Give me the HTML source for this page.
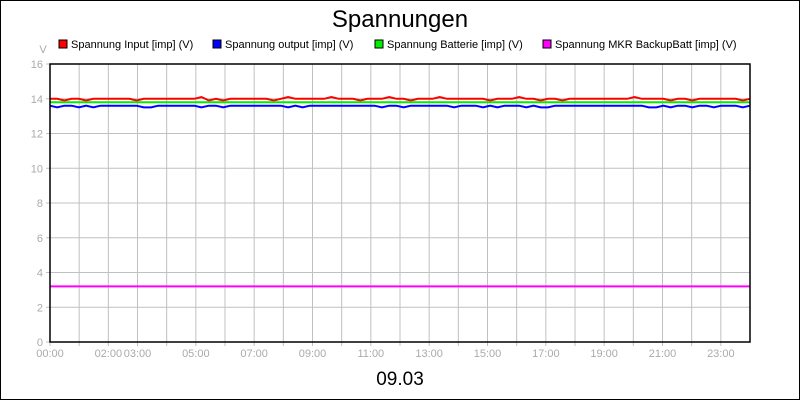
<!DOCTYPE html>
<html><head><meta charset="utf-8"><style>
body{margin:0;background:#fff}
svg{display:block;font-family:"Liberation Sans",sans-serif}
</style></head><body>
<svg id="c" width="800" height="400">
<rect x="0.5" y="0.5" width="799" height="399" fill="#fff" stroke="#000"/>
<text x="400" y="27" font-size="24" text-anchor="middle">Spannungen</text>
<text x="43" y="53" font-size="11" fill="#aaa" text-anchor="middle">V</text>
<g id="grid"></g><g id="series"></g><g id="axes"></g><g id="legend"></g>
<text x="400" y="385" font-size="19" text-anchor="middle">09.03</text>
</svg>
<script>
const inputV=[14.0,14.0,13.9,14.0,14.0,13.9,14.0,14.0,14.0,14.0,14.0,14.0,13.9,14.0,14.0,14.0,14.0,14.0,14.0,14.0,14.0,14.1,13.9,14.0,13.9,14.0,14.0,14.0,14.0,14.0,14.0,13.9,14.0,14.1,14.0,14.0,14.0,14.0,14.0,14.1,14.0,14.0,14.0,13.9,14.0,14.0,14.0,14.1,14.0,14.0,13.9,14.0,14.0,14.0,14.1,14.0,14.0,14.0,14.0,14.0,14.0,13.9,14.0,14.0,14.0,14.1,14.0,14.0,13.9,14.0,14.0,13.9,14.0,14.0,14.0,14.0,14.0,14.0,14.0,14.0,14.0,14.1,14.0,14.0,14.0,14.0,13.9,14.0,14.0,13.9,14.0,14.0,14.0,14.0,14.0,14.0,13.9,14.0];
const outputV=[13.6,13.5,13.6,13.6,13.5,13.6,13.5,13.6,13.6,13.6,13.6,13.6,13.6,13.5,13.5,13.6,13.6,13.6,13.6,13.6,13.6,13.5,13.6,13.6,13.5,13.6,13.6,13.6,13.6,13.6,13.6,13.6,13.6,13.5,13.6,13.5,13.6,13.6,13.6,13.6,13.6,13.6,13.6,13.6,13.6,13.6,13.5,13.6,13.6,13.5,13.6,13.6,13.6,13.6,13.6,13.6,13.5,13.6,13.6,13.6,13.5,13.6,13.5,13.6,13.6,13.6,13.5,13.6,13.5,13.5,13.6,13.6,13.6,13.6,13.6,13.6,13.6,13.6,13.6,13.6,13.6,13.6,13.6,13.5,13.5,13.6,13.5,13.6,13.6,13.5,13.6,13.6,13.5,13.6,13.6,13.6,13.5,13.6];
const batterieV=new Array(98).fill(13.8);
const mkrV=new Array(98).fill(3.2);
const yTicks=[0,2,4,6,8,10,12,14,16];
const xLabels=["00:00","","02:00","03:00","","05:00","","07:00","","09:00","","11:00","","13:00","","15:00","","17:00","","19:00","","21:00","","23:00"];
const seriesNames=["Spannung Input [imp] (V)","Spannung output [imp] (V)","Spannung Batterie [imp] (V)","Spannung MKR BackupBatt [imp] (V)"];
const seriesColors=["#ff0000","#0000ff","#00ee00","#ff00ff"];

const L=50,R=750,T=64,B=342,NS="http://www.w3.org/2000/svg";
const yS=v=>B-(v/16)*(B-T);
const xH=h=>L+h/24*(R-L);
function mk(t,a,p){const e=document.createElementNS(NS,t);for(const k in a)e.setAttribute(k,a[k]);p.appendChild(e);return e;}
const g=document.getElementById('grid'),ax=document.getElementById('axes'),sg=document.getElementById('series'),lg=document.getElementById('legend');
yTicks.forEach(v=>{
  const l=mk('line',{x1:L-4,x2:R,y1:yS(v),y2:yS(v),stroke:'#c0c0c0'},g);
  
  
  const t=mk('text',{x:L-7,y:yS(v)+4,'font-size':11,fill:'#aaa','text-anchor':'end'},ax);t.textContent=v;
  
  
});
for(let h=0;h<24;h++){
  const l=mk('line',{x1:xH(h),x2:xH(h),y1:T,y2:B+4,stroke:'#c0c0c0'},g);
  
  
  if(xLabels[h]){const t=mk('text',{x:xH(h),y:B+15,'font-size':11,fill:'#aaa','text-anchor':'middle'},ax);t.textContent=xLabels[h];
  
  }
}
const fr=mk('rect',{x:L,y:T,width:R-L,height:B-T,fill:'none',stroke:'#000','stroke-width':1.5},ax);


[inputV,outputV,batterieV,mkrV].forEach((arr,i)=>{
  const pts=arr.map((v,j)=>(L+j/(arr.length-1)*(R-L)).toFixed(1)+','+yS(v).toFixed(1)).join(' ');
  const p=mk('polyline',{points:pts,fill:'none',stroke:seriesColors[i],'stroke-width':2},sg);
  
  
});
const lx=[59,213,375,543];
seriesNames.forEach((n,i)=>{
  const r=mk('rect',{x:lx[i],y:40,width:8,height:8,fill:seriesColors[i],stroke:'#000'},lg);
  
  
  const t=mk('text',{x:lx[i]+12,y:48,'font-size':11},lg);t.textContent=n;
  
  
});
</script>
</body></html>
